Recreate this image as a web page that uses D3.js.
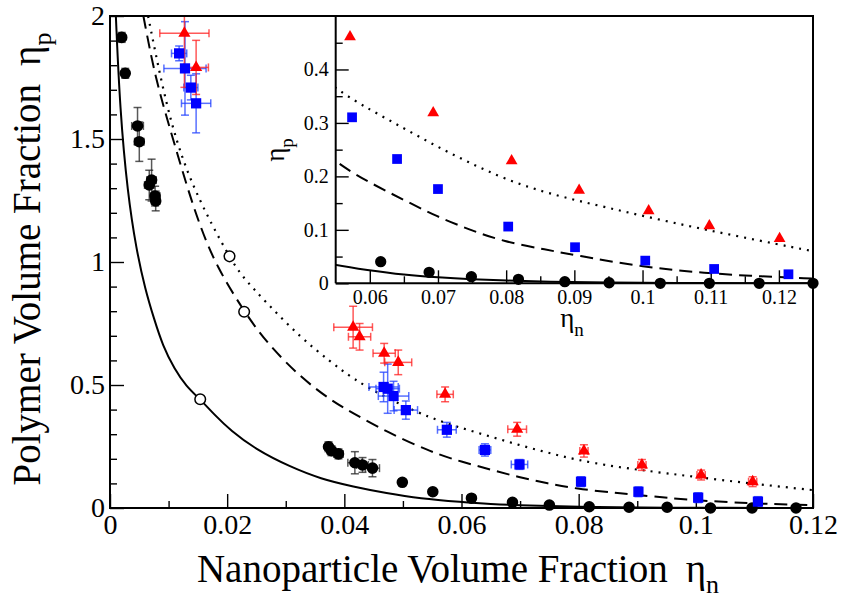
<!DOCTYPE html>
<html><head><meta charset="utf-8">
<script src="https://cdn.jsdelivr.net/npm/d3@7"></script>
<style>
body{margin:0;background:#fff}
svg{display:block}
text{font-family:"Liberation Serif","Times New Roman",serif;fill:#000}
</style>
</head><body>
<svg id="c" width="842" height="599"></svg>
<script>
// ---------------- data ----------------
const blackX  = [0.0020,0.0026,0.0047,0.0050,0.0071,0.0067,0.0077,0.0078,0.0373,0.0378,0.0390,0.0418,0.0431,0.0448,0.0499,0.0551,0.0617,0.0687,0.0750,0.0818,0.0886,0.0951,0.1025,0.1096,0.1171];
const blackY  = [1.913,1.767,1.553,1.489,1.333,1.313,1.268,1.248,0.249,0.233,0.220,0.184,0.175,0.162,0.1045,0.066,0.040,0.023,0.012,0.005,0.003,0.003,0,0,0];
const blackEX = [0.0004,0.0004,0.0010,0.0008,0.0008,0.0008,0.0008,0.0007,0.0006,0.0007,0.0008,0.0012,0.0010,0.0012,0.0005,0.0005,0.0005,0.0004,0.0004,0.0004,0.0004,0.0004,0.0004,0.0004,0.0004];
const blackEY = [0.02,0.02,0.075,0.08,0.085,0.06,0.04,0.04,0.02,0.02,0.02,0.045,0.03,0.035,0.012,0.012,0.01,0.01,0.008,0.006,0.006,0.006,0.006,0.006,0.006];

const blueX  = [0.0118,0.0128,0.0138,0.0147,0.0467,0.0474,0.0484,0.0505,0.0575,0.0640,0.0699,0.0804,0.0902,0.1004,0.1106];
const blueY  = [1.848,1.787,1.709,1.645,0.492,0.485,0.455,0.398,0.318,0.236,0.177,0.107,0.066,0.042,0.026];
const blueEX = [0.0013,0.0036,0.0012,0.0025,0.0025,0.0020,0.0026,0.0020,0.0016,0.0010,0.0014,0.0006,0.0006,0.0006,0.0006];
const blueEY = [0.03,0.19,0.05,0.12,0.06,0.10,0.06,0.037,0.03,0.025,0.02,0.02,0.02,0.02,0.02];

const redX  = [0.0127,0.0147,0.0415,0.0426,0.0468,0.0492,0.0572,0.0695,0.0809,0.0908,0.1009,0.1097];
const redY  = [1.93,1.791,0.735,0.696,0.629,0.592,0.462,0.320,0.232,0.175,0.134,0.107];
const redEX = [0.0042,0.0021,0.0033,0.0019,0.0019,0.0023,0.0014,0.0016,0.0007,0.0007,0.0007,0.0007];
const redEY = [0.22,0.11,0.085,0.054,0.04,0.05,0.03,0.028,0.025,0.022,0.02,0.02];

const openX = [0.0154,0.0229,0.0204];
const openY = [0.442,0.798,1.023];

const solidX = [0.0010,0.0017,0.0030,0.0045,0.0060,0.0075,0.0090,0.0110,0.0130,0.0154,0.0180,0.0205,0.0250,0.0307,0.0360,0.0415,0.0472,0.0529,0.0600,0.0650,0.0700,0.0750,0.0800,0.0860,0.0950,0.1050,0.1150,0.1250];
const solidY = [2.00,1.62,1.28,1.05,0.89,0.77,0.66,0.565,0.495,0.442,0.375,0.317,0.236,0.168,0.118,0.087,0.060,0.038,0.024,0.016,0.011,0.0075,0.005,0.0028,0.0012,0.0005,0.0002,0.0001];
const dashX = [0.0057,0.0077,0.0105,0.0131,0.0154,0.0182,0.0229,0.0268,0.0324,0.0376,0.0415,0.0472,0.0550,0.0600,0.0650,0.0698,0.0747,0.0796,0.0860,0.0900,0.0996,0.1094,0.1170,0.1250];
const dashY = [2.00,1.75,1.52,1.31,1.143,0.981,0.798,0.67,0.534,0.439,0.385,0.31,0.225,0.188,0.156,0.125,0.100,0.078,0.0625,0.053,0.031,0.0187,0.013,0.009];
const dotX = [0.0065,0.0097,0.0131,0.0176,0.0204,0.0222,0.0268,0.0324,0.0376,0.0415,0.0472,0.0550,0.0600,0.0650,0.0698,0.0747,0.0796,0.0860,0.0950,0.1045,0.1143,0.1250];
const dotY = [2.00,1.62,1.36,1.14,1.023,0.95,0.832,0.696,0.595,0.525,0.446,0.3625,0.325,0.290,0.256,0.225,0.196,0.168,0.141,0.113,0.087,0.060];

const insetBlackX = [0.0616,0.0687,0.0749,0.0818,0.0886,0.0951,0.1026,0.1098,0.1171,0.1250];
const insetBlackY = [0.0405,0.0206,0.0124,0.0075,0.003,0.001,0,0,0,0];
const insetBlueX = [0.0574,0.0640,0.0700,0.0803,0.0901,0.1004,0.1105,0.1214];
const insetBlueY = [0.3105,0.2325,0.1763,0.1061,0.0675,0.0424,0.0268,0.0169];
const insetRedX = [0.0571,0.0693,0.0808,0.0907,0.1009,0.1098,0.1201];
const insetRedY = [0.461,0.319,0.229,0.174,0.1356,0.1074,0.0837];

const mainXTicks = [0,0.02,0.04,0.06,0.08,0.1,0.12];
const mainXMinor = [0.01,0.03,0.05,0.07,0.09,0.11];
const mainYTicks = [0,0.5,1,1.5,2];
const mainYMinor = [0.1,0.2,0.3,0.4,0.6,0.7,0.8,0.9,1.1,1.2,1.3,1.4,1.6,1.7,1.8,1.9];
const insetXTicks = [0.06,0.07,0.08,0.09,0.1,0.11,0.12];
const insetXMinor = [0.065,0.075,0.085,0.095,0.105,0.115];
const insetYTicks = [0,0.1,0.2,0.3,0.4];
const insetYMinor = [0.05,0.15,0.25,0.35,0.45];

// ---------------- drawing ----------------
const svg = d3.select("#c");
const FONT = '"Liberation Serif","Times New Roman",serif';

const x = d3.scaleLinear().domain([0,0.12]).range([110,813]);
const y = d3.scaleLinear().domain([0,2]).range([508,16]);
const xi = d3.scaleLinear().domain([0.055,0.125]).range([335.7,813]);
const yi = d3.scaleLinear().domain([0,0.5]).range([283.3,16]);

const defs = svg.append("defs");
defs.append("clipPath").attr("id","clipMain").append("rect")
  .attr("x",110).attr("y",16).attr("width",703).attr("height",492);
defs.append("clipPath").attr("id","clipInset").append("rect")
  .attr("x",335.7).attr("y",16).attr("width",813-335.7).attr("height",283.3-16);

function zip(a,b){return a.map((v,i)=>[v,b[i]]);}

function axes(g, sx, sy, xt, xm, yt, ym, fs, major, minor, padX, padY){
  const ax = g.append("g").attr("transform",`translate(0,${sy.range()[0]})`)
    .call(d3.axisBottom(sx).tickValues(xt).tickSize(-major).tickSizeOuter(0).tickPadding(padX).tickFormat(d=>String(d)));
  const axm = g.append("g").attr("transform",`translate(0,${sy.range()[0]})`)
    .call(d3.axisBottom(sx).tickValues(xm).tickSize(-minor).tickSizeOuter(0).tickFormat(""));
  const ay = g.append("g").attr("transform",`translate(${sx.range()[0]},0)`)
    .call(d3.axisLeft(sy).tickValues(yt).tickSize(-major).tickSizeOuter(0).tickPadding(padY).tickFormat(d=>String(d)));
  const aym = g.append("g").attr("transform",`translate(${sx.range()[0]},0)`)
    .call(d3.axisLeft(sy).tickValues(ym).tickSize(-minor).tickSizeOuter(0).tickFormat(""));
  [ax,axm,ay,aym].forEach(a=>{
    a.attr("font-family",FONT);
    a.select(".domain").remove();
    a.selectAll("line").attr("stroke","#000").attr("stroke-width",1.4);
    a.selectAll("text").attr("font-family",FONT).attr("font-size",fs).attr("fill","#000");
  });
}

// main axes
const gMain = svg.append("g");
axes(gMain, x, y, mainXTicks, mainXMinor, mainYTicks, mainYMinor, 28, 14, 7, 6, 5);

// main curves
const lineMain = d3.line().x(d=>x(d[0])).y(d=>y(d[1])).curve(d3.curveBasis);
const gCurves = svg.append("g").attr("clip-path","url(#clipMain)");
gCurves.append("path").datum(zip(solidX,solidY)).attr("d",lineMain)
  .attr("fill","none").attr("stroke","#000").attr("stroke-width",2);
gCurves.append("path").datum(zip(dashX,dashY)).attr("d",lineMain)
  .attr("fill","none").attr("stroke","#000").attr("stroke-width",2).attr("stroke-dasharray","13,7");
gCurves.append("path").datum(zip(dotX,dotY)).attr("d",lineMain)
  .attr("fill","none").attr("stroke","#000").attr("stroke-width",2.2).attr("stroke-dasharray","2,6");

// error bars
function errorBars(xs,ys,exs,eys,color){
  const g = svg.append("g").attr("clip-path","url(#clipMain)")
    .attr("stroke",color).attr("stroke-width",1.5).attr("stroke-opacity",0.75).attr("fill","none");
  const cap = 4;
  xs.forEach((xv,i)=>{
    const px=x(xv), py=y(ys[i]);
    const x0=x(xv-exs[i]), x1=x(xv+exs[i]);
    const y0=y(ys[i]-eys[i]), y1=y(ys[i]+eys[i]);
    g.append("line").attr("x1",x0).attr("x2",x1).attr("y1",py).attr("y2",py);
    g.append("line").attr("x1",x0).attr("x2",x0).attr("y1",py-cap).attr("y2",py+cap);
    g.append("line").attr("x1",x1).attr("x2",x1).attr("y1",py-cap).attr("y2",py+cap);
    g.append("line").attr("x1",px).attr("x2",px).attr("y1",y0).attr("y2",y1);
    g.append("line").attr("x1",px-cap).attr("x2",px+cap).attr("y1",y0).attr("y2",y0);
    g.append("line").attr("x1",px-cap).attr("x2",px+cap).attr("y1",y1).attr("y2",y1);
  });
}
errorBars(blackX,blackY,blackEX,blackEY,"#222");
errorBars(blueX,blueY,blueEX,blueEY,"#2040ff");
errorBars(redX,redY,redEX,redEY,"#ff2020");

function markers(g, sx, sy, xs, ys, type, size, color){
  g.append("g").selectAll("path").data(zip(xs,ys)).join("path")
    .attr("transform",d=>`translate(${sx(d[0])},${sy(d[1])})`)
    .attr("d",d3.symbol().type(type).size(size)())
    .attr("fill",color);
}
markers(svg, x, y, blackX, blackY, d3.symbolCircle, 105, "#000");
markers(svg, x, y, blueX, blueY, d3.symbolSquare, 105, "#0000ff");
markers(svg, x, y, redX, redY, d3.symbolTriangle, 64, "#ff0000");

svg.append("g").selectAll("circle").data(zip(openX,openY)).join("circle")
  .attr("cx",d=>x(d[0])).attr("cy",d=>y(d[1])).attr("r",5.3)
  .attr("fill","#fff").attr("stroke","#000").attr("stroke-width",1.5);

// main frame
svg.append("rect").attr("x",110).attr("y",16).attr("width",703).attr("height",492)
  .attr("fill","none").attr("stroke","#000").attr("stroke-width",2);

// main titles
const xt = svg.append("text").attr("x",458).attr("y",582).attr("text-anchor","middle")
  .attr("font-size",39).attr("font-family",FONT);
xt.append("tspan").text("Nanoparticle Volume Fraction");
xt.append("tspan").attr("dx",18).text("η");
xt.append("tspan").attr("font-size",26).attr("dy",11).text("n");

const yt = svg.append("text").attr("transform","translate(40,259) rotate(-90)")
  .attr("text-anchor","middle").attr("font-size",39).attr("font-family",FONT);
yt.append("tspan").text("Polymer Volume Fraction");
yt.append("tspan").attr("dx",18).text("η");
yt.append("tspan").attr("font-size",26).attr("dy",11).text("p");

// ---------------- inset ----------------
const gIn = svg.append("g");
gIn.append("rect").attr("x",335.7).attr("y",16).attr("width",813-335.7).attr("height",283.3-16).attr("fill","#fff");
axes(gIn, xi, yi, insetXTicks, insetXMinor, insetYTicks, insetYMinor, 20, 13, 7, 7, 7);

const lineIn = d3.line().x(d=>xi(d[0])).y(d=>yi(d[1])).curve(d3.curveBasis);
const gInC = gIn.append("g").attr("clip-path","url(#clipInset)");
gInC.append("path").datum(zip(solidX,solidY)).attr("d",lineIn)
  .attr("fill","none").attr("stroke","#000").attr("stroke-width",2);
gInC.append("path").datum(zip(dashX,dashY)).attr("d",lineIn)
  .attr("fill","none").attr("stroke","#000").attr("stroke-width",2).attr("stroke-dasharray","13,7");
gInC.append("path").datum(zip(dotX,dotY)).attr("d",lineIn)
  .attr("fill","none").attr("stroke","#000").attr("stroke-width",2.2).attr("stroke-dasharray","2,6");

// inset frame lines (left and bottom)
gIn.append("line").attr("x1",335.7).attr("x2",335.7).attr("y1",16).attr("y2",283.3).attr("stroke","#000").attr("stroke-width",2);
gIn.append("line").attr("x1",335.7).attr("x2",813).attr("y1",283.3).attr("y2",283.3).attr("stroke","#000").attr("stroke-width",2);

markers(gIn, xi, yi, insetBlackX, insetBlackY, d3.symbolCircle, 100, "#000");
markers(gIn, xi, yi, insetBlueX, insetBlueY, d3.symbolSquare, 95, "#0000ff");
markers(gIn, xi, yi, insetRedX, insetRedY, d3.symbolTriangle, 60, "#ff0000");

const ixt = gIn.append("text").attr("x",572).attr("y",327).attr("text-anchor","middle")
  .attr("font-size",27).attr("font-family",FONT);
ixt.append("tspan").text("η");
ixt.append("tspan").attr("font-size",19).attr("dy",9).text("n");

const iyt = gIn.append("text").attr("transform","translate(284,150) rotate(-90)")
  .attr("text-anchor","middle").attr("font-size",27).attr("font-family",FONT);
iyt.append("tspan").text("η");
iyt.append("tspan").attr("font-size",19).attr("dy",9).text("p");

// outer top/right border on top of inset background
svg.append("line").attr("x1",110).attr("x2",813).attr("y1",16).attr("y2",16).attr("stroke","#000").attr("stroke-width",2);
svg.append("line").attr("x1",813).attr("x2",813).attr("y1",16).attr("y2",508).attr("stroke","#000").attr("stroke-width",2);
</script>
</body></html>
